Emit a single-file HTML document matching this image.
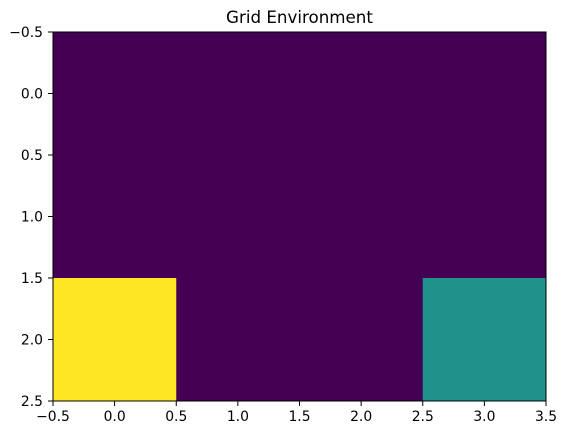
<!DOCTYPE html>
<html><head><meta charset="utf-8"><style>
body{margin:0;background:#fff}
svg{display:block;font-family:"DejaVu Sans","Liberation Sans",sans-serif}
</style></head><body>
<svg id="chart" width="566" height="435"></svg>
<script>
const grid = [[0,0,0,0],[0,0,0,0],[2,0,0,1]];
const xTicks = ["\u22120.5","0.0","0.5","1.0","1.5","2.0","2.5","3.0","3.5"];
const yTicks = ["\u22120.5","0.0","0.5","1.0","1.5","2.0","2.5"];
const xTickVals = [-0.5,0,0.5,1,1.5,2,2.5,3,3.5];
const yTickVals = [-0.5,0,0.5,1,1.5,2,2.5];
const L=53,R=546,T=32,B=401;
const NS="http://www.w3.org/2000/svg";
const svg=document.getElementById('chart');
const nR=grid.length,nC=grid[0].length;
const xs=v=>L+(v+0.5)/nC*(R-L);
const ys=v=>T+(v+0.5)/nR*(B-T);
let mx=-Infinity,mn=Infinity;grid.flat().forEach(v=>{mx=Math.max(mx,v);mn=Math.min(mn,v);});
function color(v){const t=(v-mn)/((mx-mn)||1);
 const stops=[[0,[68,1,84]],[0.25,[59,82,139]],[0.5,[33,145,140]],[0.75,[94,201,98]],[1,[253,231,37]]];
 for(let i=1;i<stops.length;i++){if(t<=stops[i][0]){const a=stops[i-1],b=stops[i];const f=(t-a[0])/(b[0]-a[0]);
 return `rgb(${a[1].map((c,k)=>Math.round(c+(b[1][k]-c)*f)).join(',')})`;}}return 'rgb(253,231,37)';}
function el(tag,attrs){const e=document.createElementNS(NS,tag);for(const k in attrs)e.setAttribute(k,attrs[k]);svg.appendChild(e);return e;}
grid.forEach((row,r)=>row.forEach((v,c)=>{
 const e=el('rect',{x:xs(c-0.5),y:ys(r-0.5),width:xs(c+0.5)-xs(c-0.5)+0.5,height:ys(r+0.5)-ys(r-0.5)+0.5,fill:color(v)});
 
 
}));
const fr=el('rect',{x:L,y:T,width:R-L,height:B-T,fill:'none',stroke:'#000','stroke-width':1});


xTickVals.forEach((v,i)=>{const x=xs(v);
 const l=el('line',{x1:x,x2:x,y1:B,y2:B+5,stroke:'#000'});
 
 
 const t=el('text',{x:x,y:B+20,'text-anchor':'middle','font-size':13.9,fill:'#000'});t.textContent=xTicks[i];
 
 
});
yTickVals.forEach((v,i)=>{const y=ys(v);
 const l=el('line',{x1:L-5,x2:L,y1:y,y2:y,stroke:'#000'});
 
 
 const t=el('text',{x:L-10,y:y+5,'text-anchor':'end','font-size':13.9,fill:'#000'});t.textContent=yTicks[i];
 
 
});
const ti=el('text',{x:(L+R)/2,y:23,'text-anchor':'middle','font-size':16.7,fill:'#000'});ti.textContent='Grid Environment';


</script>
</body></html>
